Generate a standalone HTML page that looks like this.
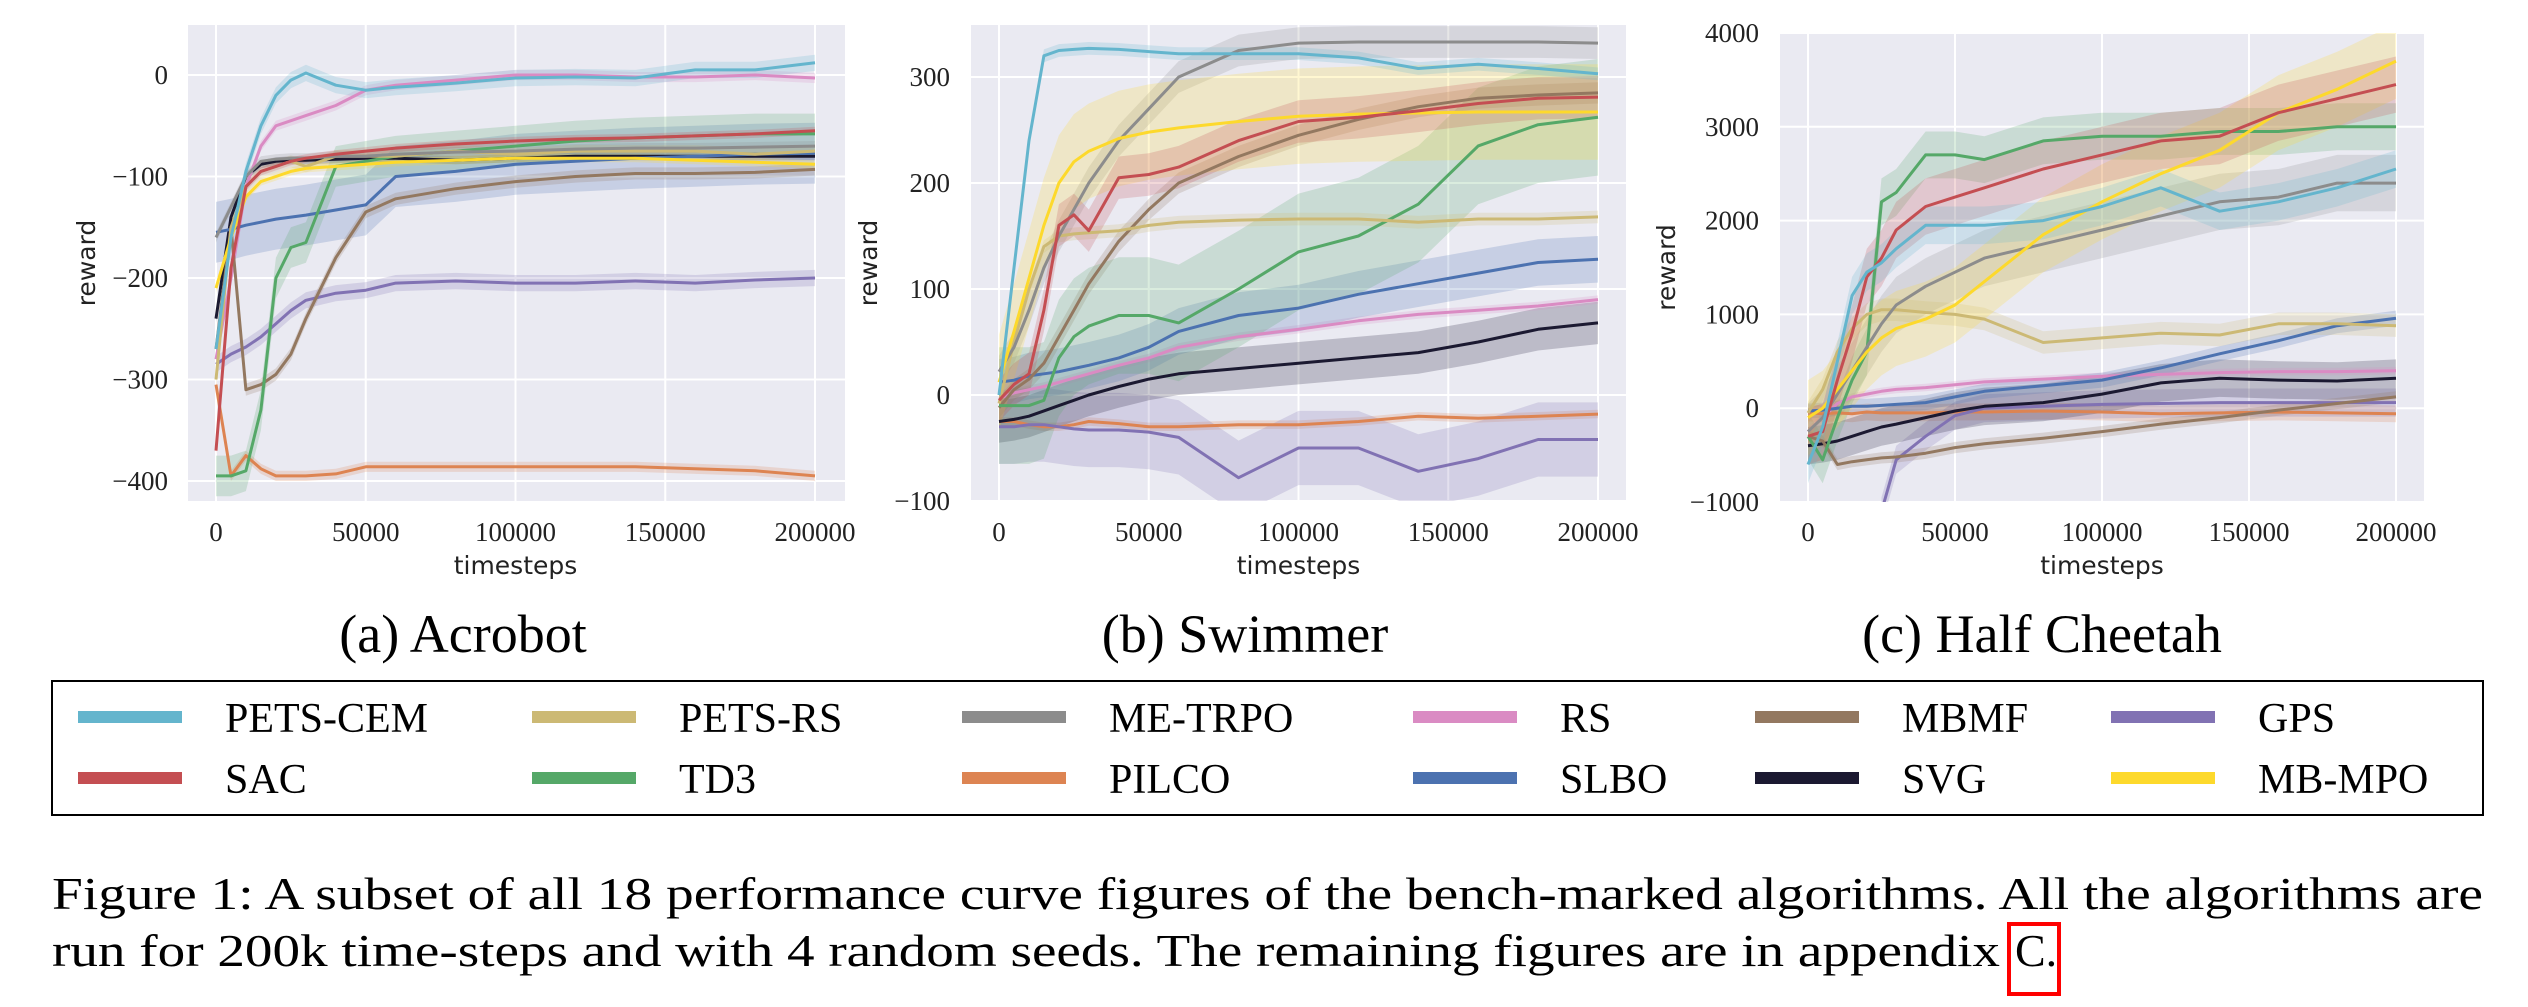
<!DOCTYPE html>
<html><head><meta charset="utf-8"><style>
html,body{margin:0;padding:0;background:#fff;}
svg{display:block;}
</style></head><body>
<svg id="fig" xmlns="http://www.w3.org/2000/svg" width="2528" height="1007" viewBox="0 0 2528 1007"></svg>
<script>
// ---- data ----
const names = ["PETS-CEM","PETS-RS","ME-TRPO","RS","MBMF","GPS","SAC","TD3","PILCO","SLBO","SVG","MB-MPO"];
const xsteps = [0,5000,10000,15000,20000,25000,30000,40000,50000,60000,80000,100000,120000,140000,160000,180000,200000];
const xTicks = [0,50000,100000,150000,200000];

const acroTicks = [0,-100,-200,-300,-400];
const acroPETSCEM = [-270,-160,-95,-50,-20,-5,2,-10,-15,-12,-8,-3,-2,-3,5,5,12];
const acroPETSRS = [-300,-150,-110,-95,-90,-85,-90,-80,-80,-80,-75,-78,-75,-75,-75,-78,-75];
const acroMETRPO = [-160,-130,-100,-85,-83,-82,-82,-80,-80,-78,-76,-75,-73,-72,-72,-71,-70];
const acroRS = [-280,-200,-110,-70,-50,-45,-40,-30,-15,-10,-5,0,0,-2,-2,0,-3];
const acroMBMF = [-270,-150,-310,-305,-295,-275,-240,-180,-135,-122,-112,-105,-100,-97,-97,-96,-93];
const acroGPS = [-285,-275,-268,-258,-245,-232,-222,-215,-212,-205,-203,-205,-205,-203,-205,-202,-200];
const acroSAC = [-370,-190,-110,-95,-90,-85,-82,-78,-75,-72,-68,-65,-63,-62,-60,-58,-55];
const acroTD3 = [-395,-395,-390,-330,-200,-170,-165,-90,-85,-80,-75,-70,-65,-62,-60,-58,-58];
const acroPILCO = [-305,-395,-375,-388,-395,-395,-395,-393,-386,-386,-386,-386,-386,-386,-388,-390,-395];
const acroSLBO = [-155,-152,-148,-145,-142,-140,-138,-133,-128,-100,-95,-88,-85,-82,-80,-78,-77];
const acroSVG = [-240,-140,-100,-88,-85,-84,-84,-83,-82,-82,-84,-82,-80,-80,-80,-80,-80];
const acroMBMPO = [-210,-160,-120,-105,-100,-95,-92,-90,-88,-86,-84,-82,-82,-82,-84,-86,-88];
const acroBand = [8,6,5,5,6,8,4,20,5,30,4,4];

const swimTicks = [300,200,100,0,-100];
const swimPETSCEM = [0,120,240,320,325,326,327,326,324,322,322,322,318,308,312,308,303];
const swimPETSRS = [-8,50,100,140,150,152,153,155,160,163,165,166,166,163,166,166,168];
const swimMETRPO = [22,45,80,120,150,175,200,240,270,300,325,332,333,333,333,333,332];
const swimRS = [-3,2,5,8,12,16,20,28,35,45,55,62,70,76,80,84,90];
const swimMBMF = [-12,5,15,30,55,80,105,145,175,200,225,245,260,272,280,283,285];
const swimGPS = [-30,-30,-28,-28,-30,-32,-33,-33,-35,-40,-78,-50,-50,-72,-60,-42,-42];
const swimSAC = [-5,10,20,80,160,170,155,205,208,215,240,258,262,268,275,280,281];
const swimTD3 = [-10,-10,-10,-5,35,55,65,75,75,68,100,135,150,180,235,255,262];
const swimPILCO = [-25,-25,-28,-30,-30,-28,-25,-27,-30,-30,-28,-28,-25,-20,-22,-20,-18];
const swimSLBO = [12,14,18,20,22,25,28,35,45,60,75,82,95,105,115,125,128];
const swimSVG = [-25,-23,-20,-15,-10,-5,0,8,15,20,25,30,35,40,50,62,68];
const swimMBMPO = [12,60,110,160,200,220,230,242,248,252,258,263,265,266,267,267,267];
const swimBand = [6,6,15,4,10,35,20,55,4,22,20,45];

const cheeTicks = [4000,3000,2000,1000,0,-1000];
const cheePETSCEM = [-600,-200,500,1200,1450,1550,1700,1950,1950,1950,2000,2150,2350,2100,2200,2350,2550];
const cheePETSRS = [-50,200,600,850,1000,1050,1050,1020,1000,950,700,750,800,780,900,900,880];
const cheeMETRPO = [-250,-100,150,400,650,900,1100,1300,1450,1600,1750,1900,2050,2200,2250,2400,2400];
const cheeRS = [-250,-100,50,120,150,180,200,220,250,280,310,340,360,380,390,390,400];
const cheeMBMF = [-300,-350,-600,-570,-550,-530,-520,-480,-420,-380,-320,-250,-170,-100,-20,50,120];
const cheeGPS = [NaN,NaN,NaN,NaN,NaN,-1100,-550,-300,-80,0,20,40,50,60,60,60,60];
const cheeSAC = [-300,-250,300,800,1400,1600,1900,2150,2250,2350,2550,2700,2850,2900,3150,3300,3450];
const cheeTD3 = [-300,-550,-100,300,600,2200,2300,2700,2700,2650,2850,2900,2900,2950,2950,3000,3000];
const cheePILCO = [-50,-60,-50,-60,-40,-50,-50,-50,-40,-40,-30,-40,-60,-50,-40,-50,-60];
const cheeSLBO = [-30,-20,0,20,20,30,40,60,120,180,240,300,430,580,720,880,960];
const cheeSVG = [-400,-380,-350,-300,-250,-200,-170,-100,-30,20,60,150,270,320,300,290,320];
const cheeMBMPO = [-100,0,200,400,600,750,850,950,1100,1350,1850,2200,2500,2750,3150,3400,3700];
const cheeBand = [200,120,300,40,60,150,300,250,90,80,200,400];

// ---- styles ----
const colors = ["#64b5cd","#ccb974","#8c8c8c","#da8bc3","#937860","#8172b3","#c44e52","#55a868","#dd8452","#4c72b0","#1b1931","#fdd92c"];
const NS = "http://www.w3.org/2000/svg";
const svg = document.getElementById("fig");
function mk(tag, attrs, parent){
  const e = document.createElementNS(NS, tag);
  for (const k in attrs) e.setAttribute(k, attrs[k]);
  (parent||svg).appendChild(e);
  return e;
}
const drawOrder = [8,5,10,3,9,4,7,1,2,11,6,0];

function panel(cfg, series, bands, ticks){
  const g = mk("g", {});
  
  
  const xScale = v => cfg.x0 + (v - 0) / 200000 * (cfg.x1 - cfg.x0);
  const yScale = v => cfg.ya + (v - cfg.va) / (cfg.vb - cfg.va) * (cfg.yb - cfg.ya);
  const bg = mk("rect", {x:cfg.L, y:cfg.T, width:cfg.R-cfg.L, height:cfg.B-cfg.T, fill:"#eaeaf2"}, g);
  
  
  const cp = mk("clipPath", {id:"clip-"+cfg.id}, g);
  mk("rect", {x:cfg.L, y:cfg.T, width:cfg.R-cfg.L, height:cfg.B-cfg.T}, cp);
  xTicks.forEach(t => {
    const x = xScale(t);
    const gl = mk("line", {x1:x, x2:x, y1:cfg.T, y2:cfg.B, stroke:"#fff", "stroke-width":2}, g);
    
    
    const tl = mk("text", {x:x, y:541, "text-anchor":"middle", "font-family":"Liberation Serif, serif", "font-size":27, fill:"#222"}, g);
    
    
    tl.textContent = String(t);
  });
  ticks.forEach(t => {
    const y = yScale(t);
    const gl = mk("line", {x1:cfg.L, x2:cfg.R, y1:y, y2:y, stroke:"#fff", "stroke-width":2}, g);
    
    
    const tl = mk("text", {x:cfg.tickR, y:y+9, "text-anchor":"end", "font-family":"Liberation Serif, serif", "font-size":27, fill:"#222"}, g);
    
    
    tl.textContent = String(t).replace("-", "\u2212");
  });
  const data = mk("g", {"clip-path":"url(#clip-"+cfg.id+")"}, g);
  drawOrder.forEach(i => {
    const vals = series[i];
    const pts = [];
    xsteps.forEach((xv, j) => { if (!isNaN(vals[j])) pts.push([xScale(xv), vals[j], j]); });
    const up = pts.map(p => p[0].toFixed(1)+","+yScale(p[1]+bands[i]).toFixed(1));
    const dn = pts.slice().reverse().map(p => p[0].toFixed(1)+","+yScale(p[1]-bands[i]).toFixed(1));
    const band = mk("polygon", {points: up.concat(dn).join(" "), fill:colors[i], "fill-opacity":0.22, stroke:"none"}, data);
    
    
  });
  drawOrder.forEach(i => {
    const vals = series[i];
    const pts = [];
    xsteps.forEach((xv, j) => { if (!isNaN(vals[j])) pts.push(xScale(xv).toFixed(1)+","+yScale(vals[j]).toFixed(1)); });
    const line = mk("polyline", {points: pts.join(" "), fill:"none", stroke:colors[i], "stroke-width":3, "stroke-linejoin":"round"}, data);
    
    
  });
  const xl = mk("text", {x:(cfg.x0+cfg.x1)/2, y:574, "text-anchor":"middle", "font-family":"DejaVu Sans, sans-serif", "font-size":25, fill:"#222"}, g);
  
  
  xl.textContent = "timesteps";
  const yl = mk("text", {x:cfg.ylx, y:(cfg.T+cfg.B)/2, "text-anchor":"middle", "font-family":"DejaVu Sans, sans-serif", "font-size":25, fill:"#222", transform:"rotate(-90 "+cfg.ylx+" "+((cfg.T+cfg.B)/2)+")"}, g);
  
  
  yl.textContent = "reward";
  const cap = mk("text", {x:cfg.capx, y:652, "text-anchor":"middle", "font-family":"Liberation Serif, serif", "font-size":54, fill:"#000"}, g);
  
  
  cap.textContent = cfg.caption;
}

panel({id:"acrobot", L:188, R:845, T:25, B:501, x0:216, x1:815, va:0, ya:75, vb:-400, yb:481, tickR:168, ylx:95, capx:463, caption:"(a) Acrobot"},
  [acroPETSCEM,acroPETSRS,acroMETRPO,acroRS,acroMBMF,acroGPS,acroSAC,acroTD3,acroPILCO,acroSLBO,acroSVG,acroMBMPO], acroBand, acroTicks);
panel({id:"swimmer", L:971, R:1626, T:25, B:501, x0:999, x1:1598, va:300, ya:77, vb:-100, yb:501, tickR:950, ylx:877, capx:1245, caption:"(b) Swimmer"},
  [swimPETSCEM,swimPETSRS,swimMETRPO,swimRS,swimMBMF,swimGPS,swimSAC,swimTD3,swimPILCO,swimSLBO,swimSVG,swimMBMPO], swimBand, swimTicks);
panel({id:"halfcheetah", L:1780, R:2424, T:33, B:502, x0:1808, x1:2396, va:4000, ya:33, vb:-1000, yb:502, tickR:1759, ylx:1675, capx:2042, caption:"(c) Half Cheetah"},
  [cheePETSCEM,cheePETSRS,cheeMETRPO,cheeRS,cheeMBMF,cheeGPS,cheeSAC,cheeTD3,cheePILCO,cheeSLBO,cheeSVG,cheeMBMPO], cheeBand, cheeTicks);

// ---- legend ----
const legCols = [78, 532, 962, 1413, 1755, 2111];
const legTextW = [258, 213, 228, 33, 145, 95, 95, 94, 150, 128, 100, 200];
const lg = mk("g", {});


const lbox = mk("rect", {x:52, y:681, width:2431, height:134, fill:"#fff", stroke:"#000", "stroke-width":2}, lg);


names.forEach((n, i) => {
  const col = i % 6, row = Math.floor(i / 6);
  const cy = row === 0 ? 717 : 778;
  const sw = mk("rect", {x:legCols[col], y:cy-6, width:104, height:12, fill:colors[i]}, lg);
  
  
  const t = mk("text", {x:legCols[col]+147, y:cy+15, "font-family":"Liberation Serif, serif", "font-size":42, fill:"#000"}, lg);
  
  
  t.textContent = n;
});

// ---- figure caption ----
const c1 = mk("text", {x:52, y:909, "font-family":"Liberation Serif, serif", "font-size":46, fill:"#000", textLength:2431, lengthAdjust:"spacingAndGlyphs"});


c1.textContent = "Figure 1: A subset of all 18 performance curve figures of the bench-marked algorithms. All the algorithms are";
const c2 = mk("text", {x:52, y:966, "font-family":"Liberation Serif, serif", "font-size":46, fill:"#000", textLength:1948, lengthAdjust:"spacingAndGlyphs"});


c2.textContent = "run for 200k time-steps and with 4 random seeds. The remaining figures are in appendix";
const c3 = mk("text", {x:2015, y:966, "font-family":"Liberation Serif, serif", "font-size":46, fill:"#000"});


c3.textContent = "C.";
const rb = mk("rect", {x:2009, y:924, width:50, height:70, fill:"none", stroke:"#ff0000", "stroke-width":4});


</script>
</body></html>
